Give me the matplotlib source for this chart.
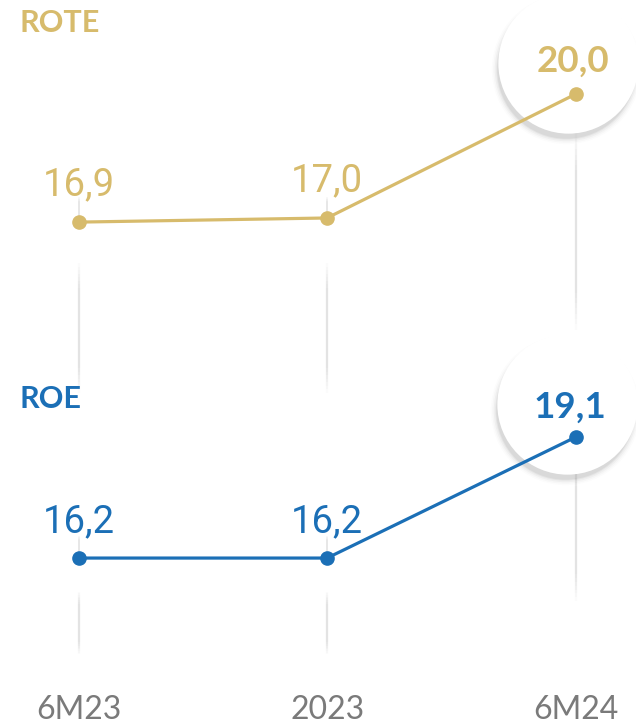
import matplotlib
matplotlib.use("Agg")
import matplotlib.pyplot as plt
import matplotlib.transforms as mtransforms
import numpy as np
from matplotlib.collections import LineCollection

# data
periods = ["6M23", "2023", "6M24"]
rote = [16.9, 17.0, 20.0]
roe = [16.2, 16.2, 19.1]

GOLD = "#D7BB6C"
BLUE = "#1B6FB6"
GREY = "#7a7a7a"

W, H = 636, 724
fig = plt.figure(figsize=(W / 100, H / 100), dpi=100)

# two panels sharing the same x layout
ax_top = fig.add_axes([0, 1 - 360 / H, 1, 360 / H])
ax_bot = fig.add_axes([0, 0, 1, 364 / H])
for ax in (ax_top, ax_bot):
    ax.set_xlim(-0.316, 2.243)
    ax.axis("off")
ax_top.set_ylim(13.56, 22.28)
ax_bot.set_ylim(12.22, 20.95)

x = np.arange(len(periods))


def fade_line(ax, xv, y0, y1, color="#e3e3e3", lw=1.6):
    # faint vertical guide that fades out at both ends (y in figure pixels)
    trans = mtransforms.blended_transform_factory(ax.transData, fig.transFigure)
    ys = np.linspace(y0, y1, 40)
    segs = [[(xv, 1 - ys[i] / H), (xv, 1 - ys[i + 1] / H)] for i in range(len(ys) - 1)]
    t = np.linspace(0, 1, len(segs))
    alpha = np.clip(np.sin(np.pi * t) * 1.6, 0, 1)
    cols = [matplotlib.colors.to_rgba(color, a) for a in alpha]
    lc = LineCollection(segs, colors=cols, linewidths=lw, transform=trans,
                        zorder=0, clip_on=False)
    ax.add_collection(lc)


# guides
for xv in (0, 1):
    fade_line(ax_top, xv, 196, 222, lw=1.2)
    fade_line(ax_top, xv, 260, 396)
    fade_line(ax_top, xv, 535, 558, lw=1.2)
    fade_line(ax_top, xv, 590, 656)
fade_line(ax_top, 2, 128, 335)
fade_line(ax_top, 2, 455, 605)


def bubble(ax, xv, yv, dx, dy):
    # white highlight circle with a soft shadow, offset from the last point
    for grow, a in [(12, 0.012), (9, 0.02), (6, 0.03), (3, 0.04), (1, 0.05)]:
        off = mtransforms.ScaledTranslation((dx - 2) / 100, (dy - 6) / 100, fig.dpi_scale_trans)
        ax.plot(xv, yv, "o", ms=99 + grow * 0.72, mfc="black", mec="none", alpha=a,
                transform=ax.transData + off, zorder=1, clip_on=False)
    off = mtransforms.ScaledTranslation(dx / 100, dy / 100, fig.dpi_scale_trans)
    ax.plot(xv, yv, "o", ms=101, mfc="white", mec="none",
            transform=ax.transData + off, zorder=2, clip_on=False)


bubble(ax_top, x[2], rote[2], -8, 31)
bubble(ax_bot, x[2], roe[2], -9, 33)

ax_top.plot(x, rote, color=GOLD, lw=2.3, zorder=3, marker="o", ms=9.5,
            solid_capstyle="round", clip_on=False)
ax_bot.plot(x, roe, color=BLUE, lw=2.3, zorder=3, marker="o", ms=9.5,
            solid_capstyle="round", clip_on=False)


def fmt(v):
    return f"{v:.1f}".replace(".", ",")


for i, v in enumerate(rote):
    if i < 2:
        ax_top.annotate(fmt(v), (x[i], v), xytext=(0, 19.5), textcoords="offset points",
                        ha="center", va="baseline", fontsize=27.5, color=GOLD,
                        family="Roboto", zorder=5)
    else:
        ax_top.annotate(fmt(v), (x[i], v), xytext=(-2, 16), textcoords="offset points",
                        ha="center", va="baseline", fontsize=26.5, color=GOLD,
                        family="Lato", weight="bold", zorder=5)

for i, v in enumerate(roe):
    if i < 2:
        ax_bot.annotate(fmt(v), (x[i], v), xytext=(0, 18.5), textcoords="offset points",
                        ha="center", va="baseline", fontsize=27.5, color=BLUE,
                        family="Roboto", zorder=5)
    else:
        ax_bot.annotate(fmt(v), (x[i], v), xytext=(-4, 14), textcoords="offset points",
                        ha="center", va="baseline", fontsize=26.5, color=BLUE,
                        family="Lato", weight="bold", zorder=5)

# panel titles
fig.text(20 / W, 1 - 32 / H, "ROTE", color=GOLD, fontsize=22, family="Lato",
         weight="bold", va="baseline", ha="left")
fig.text(20 / W, 1 - 408 / H, "ROE", color=BLUE, fontsize=22, family="Lato",
         weight="bold", va="baseline", ha="left")

# category labels
lab_trans = mtransforms.blended_transform_factory(ax_bot.transData, fig.transFigure)
for i, p in enumerate(periods):
    ax_bot.text(x[i], 1 - 719 / H, p, transform=lab_trans, ha="center", va="baseline",
                fontsize=23, color=GREY, family="Lato", weight="normal")

fig.savefig("out.png", dpi=100, facecolor="white")
